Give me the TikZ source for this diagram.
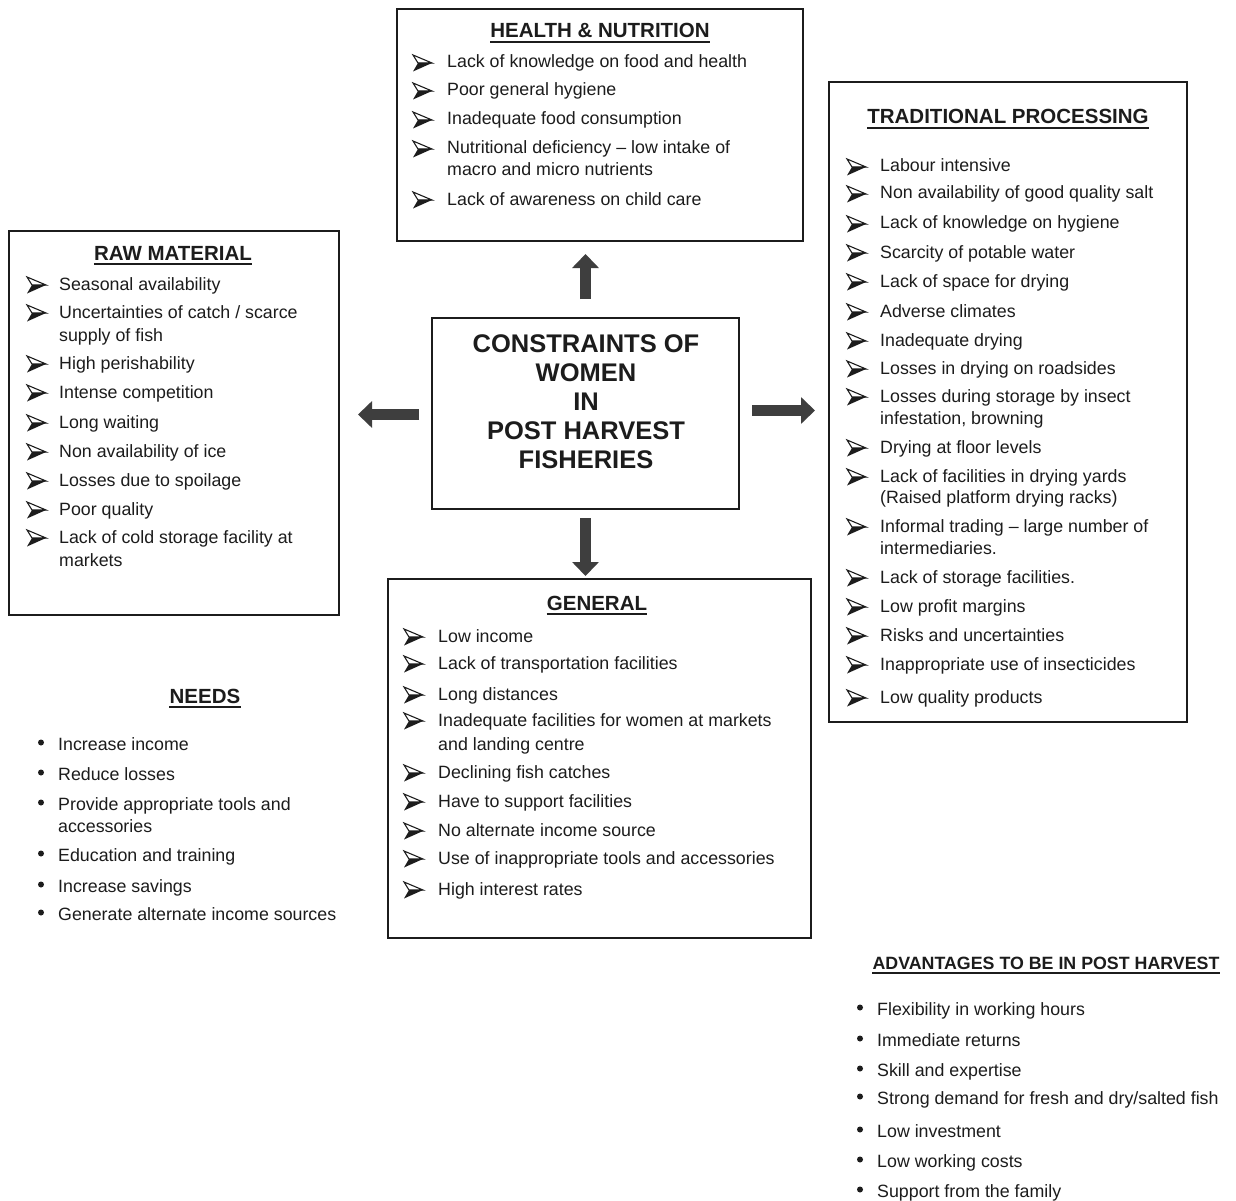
\documentclass[tikz,border=0pt]{standalone}
\usepackage{fontspec}
\setmainfont{Liberation Sans}
\usetikzlibrary{arrows.meta}
\definecolor{ink}{HTML}{1C1C1C}
\tikzset{
  box/.style={draw=ink, line width=2pt, inner sep=0pt},
  itm/.style={anchor=base west, inner sep=0pt, font=\fontsize{17.8}{20}\selectfont, text=ink},
  ttl/.style={anchor=base, inner sep=0pt, font=\bfseries\fontsize{20.5}{24}\selectfont, text=ink},
  ulin/.style={draw=ink, line width=1.6pt},
  bigarrow/.style={draw=ink!85, line width=11pt, -{Triangle[width=26pt,length=14pt]}},
  pics/bul/.style={code={
    \draw[ink, line width=1.1pt, line join=miter] (0,-13) -- (19,-5) -- (5,-5) -- cycle;
    \fill[ink] (5,-5) -- (19,-5) -- (0,3.5) -- cycle;}},
  pics/bdot/.style={code={\fill[ink] (0,-7.5) circle (3pt);}}
}
\newcommand\blist[5]{%
  \foreach \yy/\bb/\txt [count=\i] in {#5}{%
    \ifnum\bb=1 \pic at (#2,\yy) {#4};\fi
    \node[itm] (#1\i) at (#3,\yy) {\txt};
  }}
\begin{document}
\begin{tikzpicture}[x=1pt,y=-1pt]
\fill[white] (0,0) rectangle (1236,1201);
\useasboundingbox (0,0) rectangle (1236,1201);

% boxes
\node[box, minimum width=406, minimum height=232] (hn) at (600,125) {};
\node[box, minimum width=330, minimum height=384] (raw) at (174,423) {};
\node[box, minimum width=358, minimum height=640] (trad) at (1008,402) {};
\node[box, minimum width=307, minimum height=191] (ctr) at (585.5,413.5) {};
\node[box, minimum width=423, minimum height=359] (gen) at (599.5,758.5) {};

% centre text
\node[anchor=north, inner sep=0pt, align=center, text=ink,
      font=\bfseries\fontsize{25.5}{29.2}\selectfont] (ctrtxt) at (586,334)
  {CONSTRAINTS OF\\WOMEN\\IN\\POST HARVEST\\FISHERIES};

% arrows
\draw[bigarrow] ([yshift=18]ctr.north) -- ([yshift=-12]ctr.north |- hn.south);
\draw[bigarrow] ([xshift=-12,yshift=-1]ctr.west) -- ([xshift=18,yshift=-1]ctr.west -| raw.east);
\draw[bigarrow] ([xshift=12,yshift=3]ctr.east) -- ([xshift=-13,yshift=3]ctr.east -| trad.west);
\draw[bigarrow] ([yshift=-8]ctr.south) -- ([yshift=2]ctr.south |- gen.north);

% titles
\node[ttl] (hnt) at (600,38) {HEALTH \& NUTRITION};
\node[ttl] (rawt) at (173,260) {RAW MATERIAL};
\node[ttl] (tradt) at (1008,124) {TRADITIONAL PROCESSING};
\node[ttl] (gent) at (597,610) {GENERAL};
\node[ttl] (needt) at (205,703) {NEEDS};
\node[ttl, font=\bfseries\fontsize{17.8}{21}\selectfont] (advt) at (1046,969) {ADVANTAGES TO BE IN POST HARVEST};
\foreach \n in {hnt,rawt,tradt,gent,needt,advt}{
  \draw[ulin] ([yshift=-4]\n.base west) -- ([yshift=-4]\n.base east);
}

% lists
\blist{h}{413}{447}{bul}{68/1/{Lack of knowledge on food and health},
  96/1/{Poor general hygiene},
  125/1/{Inadequate food consumption},
  154/1/{Nutritional deficiency -- low intake of},
  176/0/{macro and micro nutrients},
  205/1/{Lack of awareness on child care}}

\blist{r}{27}{59}{bul}{290/1/{Seasonal availability},
  318/1/{Uncertainties of catch / scarce},
  341/0/{supply of fish},
  369/1/{High perishability},
  398/1/{Intense competition},
  428/1/{Long waiting},
  457/1/{Non availability of ice},
  486/1/{Losses due to spoilage},
  515/1/{Poor quality},
  543/1/{Lack of cold storage facility at},
  566/0/{markets}}

\blist{t}{847}{880}{bul}{172/1/{Labour intensive},
  199/1/{Non availability of good quality salt},
  229/1/{Lack of knowledge on hygiene},
  258/1/{Scarcity of potable water},
  287/1/{Lack of space for drying},
  317/1/{Adverse climates},
  346/1/{Inadequate drying},
  374/1/{Losses in drying on roadsides},
  402/1/{Losses during storage by insect},
  424/0/{infestation, browning},
  453/1/{Drying at floor levels},
  482/1/{Lack of facilities in drying yards},
  503/0/{(Raised platform drying racks)},
  532/1/{Informal trading -- large number of},
  554/0/{intermediaries.},
  583/1/{Lack of storage facilities.},
  612/1/{Low profit margins},
  641/1/{Risks and uncertainties},
  670/1/{Inappropriate use of insecticides},
  703/1/{Low quality products}}

\blist{g}{404}{438}{bul}{642/1/{Low income},
  669/1/{Lack of transportation facilities},
  700/1/{Long distances},
  726/1/{Inadequate facilities for women at markets},
  750/0/{and landing centre},
  778/1/{Declining fish catches},
  807/1/{Have to support facilities},
  836/1/{No alternate income source},
  864/1/{Use of inappropriate tools and accessories},
  895/1/{High interest rates}}

\blist{n}{41}{58}{bdot}{750/1/{Increase income},
  780/1/{Reduce losses},
  810/1/{Provide appropriate tools and},
  832/0/{accessories},
  861/1/{Education and training},
  892/1/{Increase savings},
  920/1/{Generate alternate income sources}}

\blist{a}{860}{877}{bdot}{1015/1/{Flexibility in working hours},
  1046/1/{Immediate returns},
  1076/1/{Skill and expertise},
  1104/1/{Strong demand for fresh and dry/salted fish},
  1137/1/{Low investment},
  1167/1/{Low working costs},
  1197/1/{Support from the family}}
\end{tikzpicture}
\end{document}
